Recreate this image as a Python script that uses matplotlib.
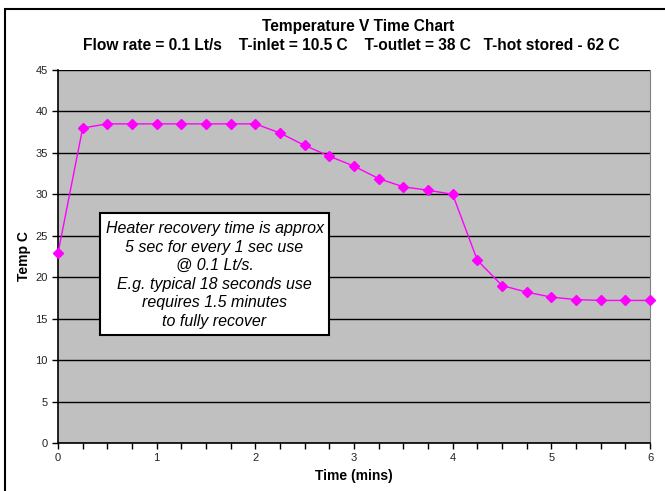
import matplotlib
matplotlib.use("Agg")
import matplotlib.pyplot as plt
from matplotlib.patches import Rectangle
import numpy as np

plt.rcParams['font.family'] = ['Liberation Sans', 'DejaVu Sans']

time_mins = [0, 0.25, 0.5, 0.75, 1.0, 1.25, 1.5, 1.75, 2.0, 2.25, 2.5, 2.75, 3.0,
             3.25, 3.5, 3.75, 4.0, 4.25, 4.5, 4.75, 5.0, 5.25, 5.5, 5.75, 6.0]
temp_c = [22.9, 38.0, 38.5, 38.5, 38.5, 38.5, 38.5, 38.5, 38.5, 37.4, 35.9, 34.6, 33.4,
          31.9, 30.9, 30.5, 30.0, 22.05, 19.0, 18.2, 17.6, 17.3, 17.2, 17.2, 17.2]

title_lines = ["Temperature V Time Chart",
               "Flow rate = 0.1 Lt/s    T-inlet = 10.5 C    T-outlet = 38 C   T-hot stored - 62 C"]
note = ("Heater recovery time is approx\n5 sec for every 1 sec use\n@ 0.1 Lt/s.\n"
        "E.g. typical 18 seconds use\nrequires 1.5 minutes\nto fully recover")

W, H = 665, 491
fig = plt.figure(figsize=(W / 100, H / 100), dpi=100)
fig.patch.set_facecolor('white')

# outer frame
fig.add_artist(Rectangle((5 / W, -0.05), 1.2, 1 - 9 / H + 0.05, transform=fig.transFigure,
                         fill=False, edgecolor='black', linewidth=1.5))

ax = fig.add_axes([58 / W, 1 - 443 / H, (650 - 58) / W, (443 - 70) / H])
ax.set_facecolor('#c0c0c0')
ax.plot(time_mins, temp_c, color='#ff00ff', linewidth=1.0, marker='D',
        markersize=5.5, markerfacecolor='#ff00ff', markeredgecolor='#ff00ff', zorder=5,
        clip_on=False)

ax.set_xlim(0, 6)
ax.set_ylim(0, 45)
ax.set_xticks(np.arange(0, 6.01, 0.25))
ax.set_xticklabels([str(int(t)) if float(t).is_integer() else '' for t in np.arange(0, 6.01, 0.25)])
ax.set_yticks(np.arange(0, 46, 5))
ax.tick_params(axis='both', direction='out', length=4, width=1, labelsize=8, color='black',
               labelcolor='#222222')
ax.grid(axis='y', color='black', linewidth=1.0)
ax.set_axisbelow(True)
ax.spines['top'].set_visible(False)
ax.spines['right'].set_color('#808080')
ax.spines['left'].set_linewidth(1.2)
ax.spines['bottom'].set_linewidth(1.2)

ax.set_xlabel('Time (mins)', fontsize=10, fontweight='bold', labelpad=4)
ax.set_ylabel('Temp C', fontsize=10, fontweight='bold', labelpad=3)

fig.text(358 / W, 1 - 27 / H, title_lines[0], ha='center', va='center', fontsize=11.2,
         fontweight='bold')
fig.text(351 / W, 1 - 45 / H, title_lines[1], ha='center', va='center', fontsize=11.2,
         fontweight='bold')

# note box
bx0, by0, bx1, by1 = 100, 213, 329, 335
fig.add_artist(Rectangle((bx0 / W, 1 - by1 / H), (bx1 - bx0) / W, (by1 - by0) / H,
                         transform=fig.transFigure, facecolor='white', edgecolor='black',
                         linewidth=1.5, zorder=10))
fig.text((bx0 + bx1) / 2 / W, 1 - (by0 + by1 + 2) / 2 / H, note, ha='center', va='center',
         fontsize=11.5, fontstyle='italic', linespacing=1.3, zorder=11)

fig.savefig('out.png', dpi=100)
